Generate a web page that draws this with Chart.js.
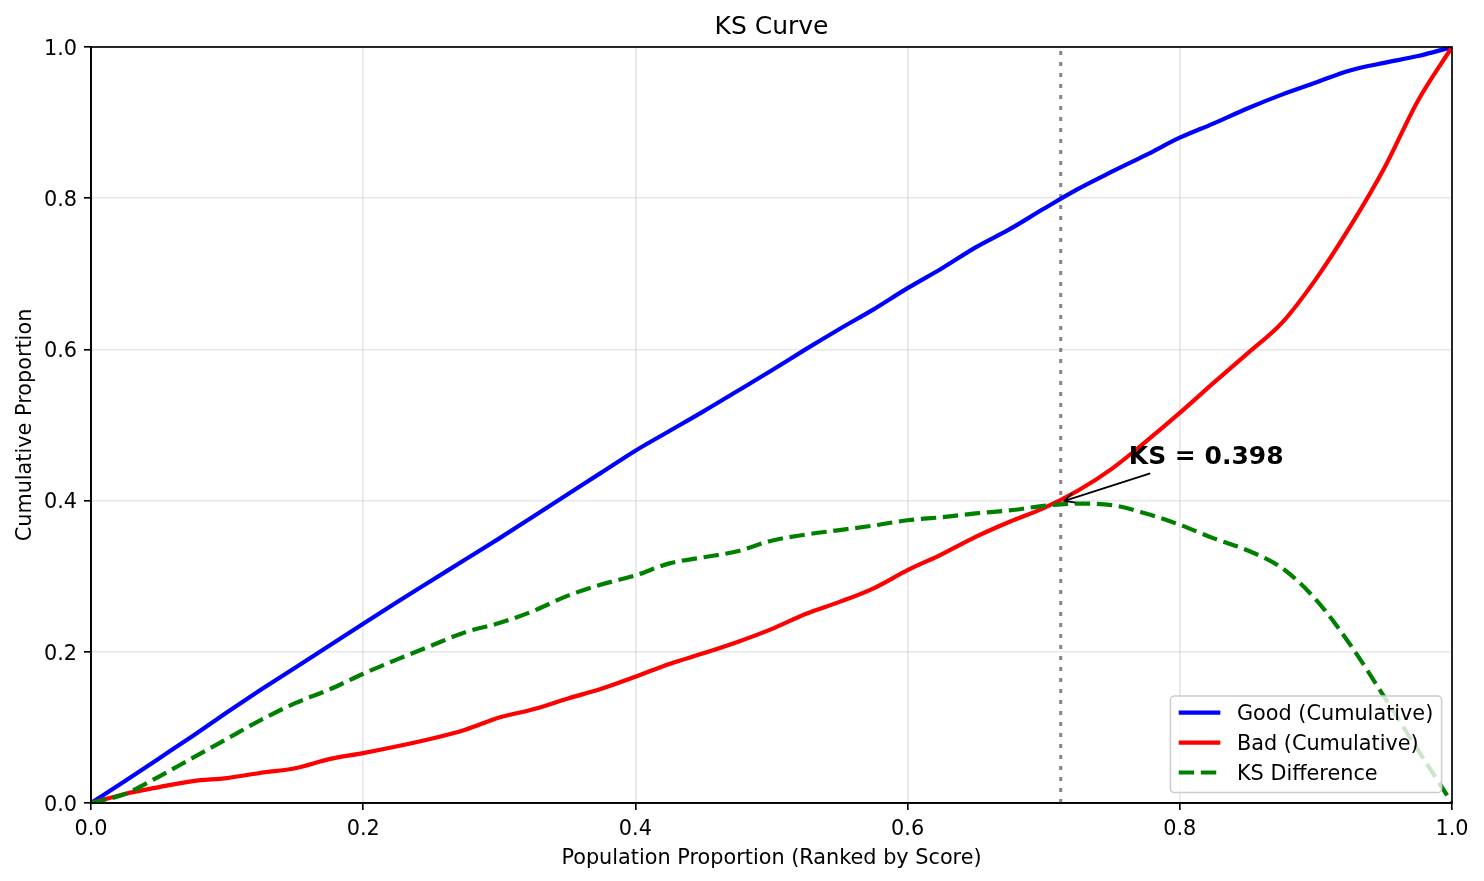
<!DOCTYPE html>
<html lang="en">
<head>
  <meta charset="UTF-8">
  <title>KS Curve</title>
  <script src="https://cdn.jsdelivr.net/npm/chart.js"></script>
  <style>
    html, body { margin: 0; padding: 0; background: #ffffff; }
    #wrap { width: 1484px; height: 881px; }
  </style>
</head>
<body>
  <div id="wrap"><canvas id="ksChart" width="1484" height="881"></canvas></div>

  <script>
    // population share (ranked by score)
    const population = [0, 0.025, 0.05, 0.075, 0.1, 0.125, 0.15, 0.175, 0.2, 0.225,
      0.25, 0.275, 0.3, 0.325, 0.35, 0.375, 0.4, 0.425, 0.45, 0.475,
      0.5, 0.525, 0.55, 0.575, 0.6, 0.625, 0.65, 0.675, 0.7, 0.725,
      0.75, 0.775, 0.8, 0.825, 0.85, 0.875, 0.9, 0.925, 0.95, 0.975, 1.0];

    const goodCum = [0, 0.029, 0.059, 0.089, 0.120, 0.150, 0.179, 0.208, 0.237, 0.266,
      0.294, 0.322, 0.350, 0.379, 0.408, 0.437, 0.466, 0.492, 0.518, 0.545,
      0.572, 0.600, 0.627, 0.653, 0.681, 0.707, 0.735, 0.759, 0.786, 0.812,
      0.835, 0.857, 0.880, 0.899, 0.919, 0.937, 0.953, 0.969, 0.979, 0.988, 1.0];

    const badCum = [0, 0.012, 0.021, 0.029, 0.033, 0.040, 0.046, 0.058, 0.066, 0.075,
      0.085, 0.097, 0.113, 0.124, 0.138, 0.151, 0.167, 0.184, 0.198, 0.213,
      0.230, 0.250, 0.266, 0.284, 0.308, 0.329, 0.352, 0.372, 0.390, 0.413,
      0.442, 0.478, 0.516, 0.556, 0.595, 0.635, 0.693, 0.762, 0.839, 0.929, 1.0];

    const ksDiff = [0, 0.012, 0.035, 0.060, 0.085, 0.110, 0.132, 0.150, 0.171, 0.190,
      0.208, 0.226, 0.238, 0.254, 0.274, 0.289, 0.301, 0.317, 0.325, 0.333,
      0.347, 0.355, 0.361, 0.367, 0.374, 0.378, 0.383, 0.387, 0.393, 0.396,
      0.394, 0.383, 0.368, 0.350, 0.334, 0.311, 0.269, 0.210, 0.141, 0.070, 0];

    const seriesLabels = ['Good (Cumulative)', 'Bad (Cumulative)', 'KS Difference'];
    const tickValues = [0, 0.2, 0.4, 0.6, 0.8, 1.0];

    const ksX = 0.7125;
    const ksValue = 0.398;

    const FONT = '"DejaVu Sans", "Liberation Sans", sans-serif';
    const fs = 20.8;
    Chart.defaults.font.family = FONT;
    Chart.defaults.color = '#000';

    const toPoints = vals => population.map((p, i) => ({ x: p, y: vals[i] }));

    // dotted KS line, spines, annotation and legend box
    const ksExtras = {
      id: 'ksExtras',
      beforeDatasetsDraw(chart) {
        const { ctx, chartArea: a, scales: { x } } = chart;
        const px = x.getPixelForValue(ksX);
        ctx.save();
        ctx.strokeStyle = '#858585';
        ctx.lineWidth = 3;
        ctx.lineCap = 'butt';
        ctx.setLineDash([4, 7]);
        ctx.beginPath();
        ctx.moveTo(px, a.bottom);
        ctx.lineTo(px, a.top);
        ctx.stroke();
        ctx.restore();
      },
      afterDatasetsDraw(chart) {
        const { ctx, chartArea: a, scales: { x, y } } = chart;
        ctx.save();

        // spines
        ctx.strokeStyle = '#000';
        ctx.lineWidth = 1.67;
        ctx.strokeRect(a.left, a.top, a.right - a.left, a.bottom - a.top);

        // annotation
        const label = 'KS = ' + ksValue.toFixed(3);
        const tx = x.getPixelForValue(ksX + 0.05);
        const ty = y.getPixelForValue(ksValue + 0.05);
        ctx.font = 'bold 25px ' + FONT;
        ctx.fillStyle = '#000';
        ctx.textAlign = 'left';
        ctx.textBaseline = 'alphabetic';
        ctx.fillText(label, tx, ty);
        const tw = ctx.measureText(label).width;

        const cx = tx + tw / 2, cy = ty - 9;
        const px = x.getPixelForValue(ksX), py = y.getPixelForValue(ksValue);
        const t = (ty + 9 - cy) / (py - cy);
        const sx = cx + t * (px - cx), sy = ty + 9;
        const dx = px - sx, dy = py - sy, len = Math.hypot(dx, dy);
        const ux = dx / len, uy = dy / len;
        const ex = px - ux * 4, ey = py - uy * 4;
        ctx.strokeStyle = '#000';
        ctx.lineWidth = 1.8;
        ctx.beginPath();
        ctx.moveTo(sx, sy);
        ctx.lineTo(ex, ey);
        ctx.stroke();
        const hl = 10, hw = 5;
        ctx.beginPath();
        ctx.moveTo(ex - ux * hl - uy * hw, ey - uy * hl + ux * hw);
        ctx.lineTo(ex, ey);
        ctx.lineTo(ex - ux * hl + uy * hw, ey - uy * hl - ux * hw);
        ctx.stroke();

        // legend (lower right, inside the axes)
        ctx.font = fs + 'px ' + FONT;
        const textW = Math.max(...seriesLabels.map(s => ctx.measureText(s).width));
        const pad = 0.4 * fs, handle = 2 * fs, gap = 0.8 * fs, rowH = 0.96 * fs, spacing = 0.48 * fs;
        const w = pad + handle + gap + textW + pad;
        const h = 2 * pad + 3 * rowH + 2 * spacing;
        const right = a.right - 0.5 * fs, bottom = a.bottom - 0.5 * fs;
        const left = right - w, top = bottom - h;
        ctx.beginPath();
        ctx.roundRect(left, top, w, h, 0.2 * fs);
        ctx.fillStyle = 'rgba(255,255,255,0.8)';
        ctx.fill();
        ctx.strokeStyle = '#cccccc';
        ctx.lineWidth = 1.5;
        ctx.stroke();

        chart.data.datasets.forEach((ds, i) => {
          const rowY = top + pad + i * (rowH + spacing) + rowH / 2 - 1.8;
          ctx.strokeStyle = ds.borderColor;
          ctx.lineWidth = ds.borderWidth;
          ctx.setLineDash(ds.borderDash || []);
          ctx.beginPath();
          ctx.moveTo(left + pad, rowY);
          ctx.lineTo(left + pad + handle, rowY);
          ctx.stroke();
          ctx.setLineDash([]);
          ctx.fillStyle = '#000';
          ctx.textBaseline = 'alphabetic';
          ctx.fillText(seriesLabels[i], left + pad + handle + gap, rowY + 0.365 * fs);
        });

        ctx.restore();
      }
    };

    const axisCommon = {
      type: 'linear',
      min: 0,
      max: 1,
      afterBuildTicks: s => { s.ticks = tickValues.map(v => ({ value: v })); },
      grid: {
        color: 'rgba(176,176,176,0.3)',
        lineWidth: 1.6,
        drawTicks: true,
        tickLength: 7,
        tickColor: '#000',
        tickWidth: 1.67
      },
      border: { display: true, color: '#000', width: 1.67 }
    };

    new Chart(document.getElementById('ksChart'), {
      type: 'line',
      data: {
        datasets: [
          {
            label: seriesLabels[0],
            data: toPoints(goodCum),
            borderColor: '#0000ff',
            borderWidth: 4.2,
            order: 3
          },
          {
            label: seriesLabels[1],
            data: toPoints(badCum),
            borderColor: '#ff0000',
            borderWidth: 4.2,
            order: 2
          },
          {
            label: seriesLabels[2],
            data: toPoints(ksDiff),
            borderColor: '#008000',
            borderWidth: 4.2,
            borderDash: [15.4, 6.7],
            order: 1
          }
        ]
      },
      options: {
        responsive: false,
        animation: false,
        devicePixelRatio: 1,
        layout: { padding: { left: 0, right: 32, top: 0, bottom: 0 } },
        elements: {
          point: { radius: 0 },
          line: { cubicInterpolationMode: 'monotone', fill: false, borderCapStyle: 'butt' }
        },
        plugins: {
          legend: { display: false },
          tooltip: { enabled: false },
          title: {
            display: true,
            text: 'KS Curve',
            fullSize: false,
            color: '#000',
            font: { size: 25, weight: 'normal' },
            padding: { top: 12, bottom: 5 }
          }
        },
        scales: {
          x: Object.assign({}, axisCommon, {
            ticks: {
              font: { size: fs },
              color: '#000',
              padding: 7.5,
              callback: v => Number(v).toFixed(1)
            },
            title: {
              display: true,
              text: 'Population Proportion (Ranked by Score)',
              font: { size: fs },
              color: '#000',
              padding: { top: 0, bottom: 10 }
            },
            afterFit: s => { s.height = 78; }
          }),
          y: Object.assign({}, axisCommon, {
            ticks: {
              font: { size: fs },
              color: '#000',
              padding: 7,
              labelOffset: 2.5,
              callback: v => Number(v).toFixed(1)
            },
            title: {
              display: true,
              text: 'Cumulative Proportion',
              font: { size: fs },
              color: '#000',
              padding: { top: 13, bottom: 0 }
            },
            afterFit: s => { s.width = 91; }
          })
        }
      },
      plugins: [ksExtras]
    });
  </script>
</body>
</html>
